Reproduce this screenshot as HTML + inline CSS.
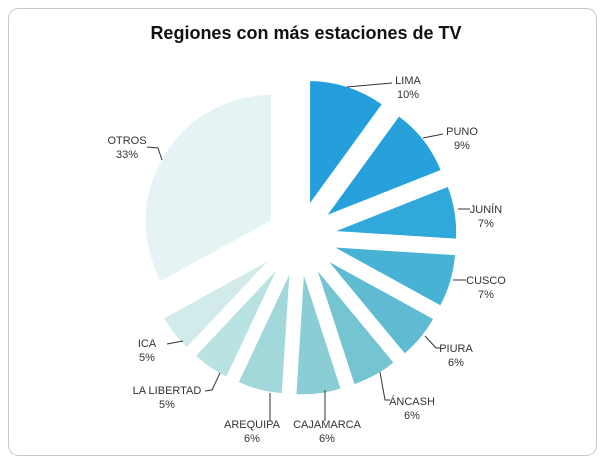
<!DOCTYPE html>
<html><head><meta charset="utf-8"><style>
html,body{margin:0;padding:0;background:#fff;width:605px;height:464px;overflow:hidden}
svg{display:block;font-family:"Liberation Sans",sans-serif}
</style></head><body>
<svg id="s" width="605" height="464" viewBox="0 0 605 464">
<rect x="8.5" y="8.5" width="588" height="447" rx="10" fill="#fff" stroke="#c8c8c8" stroke-width="1"/>
<text x="306" y="39" text-anchor="middle" font-size="18" font-weight="bold" fill="#111">Regiones con más estaciones de TV</text>
<g id="pie"></g>
<g stroke="#333" stroke-width="1" fill="none">
<polyline points="347,87 392,83"/>
<polyline points="423,138 443,134"/>
<polyline points="458,209 470,209"/>
<polyline points="453,280 466,280"/>
<polyline points="425,336 436,348 441,348"/>
<polyline points="380,372 385,400 390,400"/>
<polyline points="325,390 325,421"/>
<polyline points="270,393 270,421"/>
<polyline points="220,373 212,390 205,391"/>
<polyline points="167,344 183,341"/>
<polyline points="147,147 158,148 162,160"/>
</g>
<g font-size="11" fill="#333" text-anchor="middle">
<text x="408" y="84">LIMA</text><text x="408" y="98">10%</text>
<text x="462" y="135">PUNO</text><text x="462" y="149">9%</text>
<text x="486" y="213">JUNÍN</text><text x="486" y="227">7%</text>
<text x="486" y="284">CUSCO</text><text x="486" y="298">7%</text>
<text x="456" y="352">PIURA</text><text x="456" y="366">6%</text>
<text x="412" y="405">ÁNCASH</text><text x="412" y="419">6%</text>
<text x="327" y="428">CAJAMARCA</text><text x="327" y="442">6%</text>
<text x="252" y="428">AREQUIPA</text><text x="252" y="442">6%</text>
<text x="167" y="394">LA LIBERTAD</text><text x="167" y="408">5%</text>
<text x="147" y="347">ICA</text><text x="147" y="361">5%</text>
<text x="127" y="144">OTROS</text><text x="127" y="158">33%</text>
</g>
</svg>
<script>
var data=[[10,"#249fdc"],[9,"#27a1db"],[7,"#30a8d9"],[7,"#47b2d4"],[6,"#5ebbd1"],[6,"#75c4d1"],[6,"#8bcdd4"],[6,"#a3d8db"],[5,"#b9e2e2"],[5,"#d1eaea"],[33,"#e5f3f5"]];
var cx=299,cy=237,r=128,d=31,a=0,g=document.getElementById("pie"),h="";
function pt(x,y,ang,rad){return [x+rad*Math.sin(ang),y-rad*Math.cos(ang)];}
data.forEach(function(e){
 var a0=a*Math.PI/50,a1=(a+e[0])*Math.PI/50,m=(a0+a1)/2;a+=e[0];
 var c=pt(cx,cy,m,d),p0=pt(c[0],c[1],a0,r),p1=pt(c[0],c[1],a1,r);
 var large=(a1-a0)>Math.PI?1:0;
 h+='<path d="M'+c[0]+','+c[1]+' L'+p0[0]+','+p0[1]+' A'+r+','+r+' 0 '+large+' 1 '+p1[0]+','+p1[1]+' Z" fill="'+e[1]+'" stroke="#fff" stroke-width="3"/>';
});
g.innerHTML=h;
</script>
</body></html>
